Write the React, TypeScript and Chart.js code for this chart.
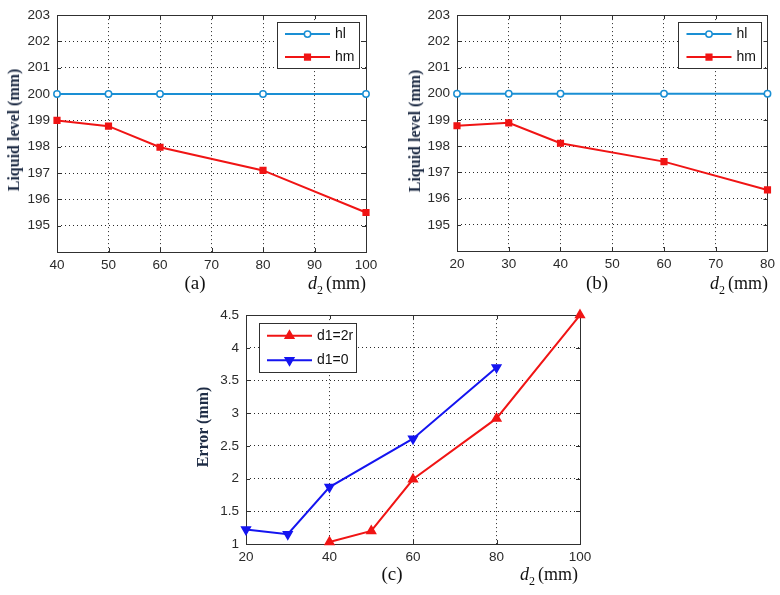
import React, { useEffect, useRef } from 'react';
import { Chart, registerables } from 'chart.js';
Chart.register(...registerables);

// (a)
const aX = [40, 50, 60, 80, 100];
const aHl = [200, 200, 200, 200, 200];
const aHm = [199.0, 198.78, 197.98, 197.1, 195.5];
// (b)
const bX = [20, 30, 40, 60, 80];
const bHl = [200, 200, 200, 200, 200];
const bHm = [198.78, 198.89, 198.11, 197.41, 196.33];
// (c)
const cX2r = [40, 50, 60, 80, 100];
const cErr2r = [1.03, 1.2, 1.99, 2.92, 4.5];
const cX0 = [20, 30, 40, 60, 80];
const cErr0 = [1.22, 1.15, 1.87, 2.61, 3.7];

const levelRange = { min: 194, max: 203, step: 1, hidden: [194] };
const aXRange = { min: 40, max: 100, step: 10 };
const bXRange = { min: 20, max: 80, step: 10 };
const cXRange = { min: 20, max: 100, step: 20 };
const errRange = { min: 1, max: 4.5, step: 0.5, hidden: [] as number[] };

const BLUE_L = '#1a8fd4';
const RED = '#f01414';
const BLUE = '#1414f0';
const TICK_FONT = "'Liberation Sans', Arial, sans-serif";
const SERIF = "'Liberation Serif', 'DejaVu Serif', serif";

const pts = (xs: number[], ys: number[]) => xs.map((x, i) => ({ x, y: ys[i] }));

function drawMarker(ctx: CanvasRenderingContext2D, style: string, x: number, y: number, r: number, fill: string, stroke: string, rot: number) {
  ctx.save();
  ctx.setLineDash([]);
  ctx.lineWidth = 1.5;
  ctx.fillStyle = fill;
  ctx.strokeStyle = stroke;
  ctx.beginPath();
  if (style === 'circle') {
    ctx.arc(x, y, r, 0, Math.PI * 2);
    ctx.fill();
    ctx.stroke();
  } else if (style === 'rect') {
    const s = Math.SQRT1_2 * r;
    ctx.rect(x - s, y - s, 2 * s, 2 * s);
    ctx.fill();
    ctx.stroke();
  } else {
    const dir = rot === 180 ? 1 : -1;
    ctx.moveTo(x, y + dir * r);
    ctx.lineTo(x + r * 0.866, y - dir * r * 0.5);
    ctx.lineTo(x - r * 0.866, y - dir * r * 0.5);
    ctx.closePath();
    ctx.fill();
    ctx.stroke();
  }
  ctx.restore();
}

type LegendCfg = { side: 'left' | 'right'; dx: number; dy: number; w: number; h: number };

function framePlugin(legend: LegendCfg) {
  return {
    id: 'frame',
    beforeDatasetsDraw(chart: any) {
      const { ctx, chartArea: a, scales } = chart;
      ctx.save();
      ctx.setLineDash([]);
      ctx.strokeStyle = '#303030';
      ctx.lineWidth = 1;
      ctx.strokeRect(Math.round(a.left) + 0.5, Math.round(a.top) + 0.5, Math.round(a.right - a.left), Math.round(a.bottom - a.top));
      const tl = 4;
      ctx.beginPath();
      scales.x.ticks.forEach((t: any) => {
        const px = Math.round(scales.x.getPixelForValue(t.value)) + 0.5;
        ctx.moveTo(px, a.bottom); ctx.lineTo(px, a.bottom - tl);
        ctx.moveTo(px, a.top); ctx.lineTo(px, a.top + tl);
      });
      scales.y.ticks.forEach((t: any) => {
        const py = Math.round(scales.y.getPixelForValue(t.value)) + 0.5;
        ctx.moveTo(a.left, py); ctx.lineTo(a.left + tl, py);
        ctx.moveTo(a.right, py); ctx.lineTo(a.right - tl, py);
      });
      ctx.stroke();
      ctx.restore();
    },
    afterDraw(chart: any) {
      const { ctx, chartArea: a } = chart;
      const x0 = legend.side === 'right' ? a.right - legend.dx - legend.w : a.left + legend.dx;
      const y0 = a.top + legend.dy;
      ctx.save();
      ctx.setLineDash([]);
      ctx.fillStyle = '#ffffff';
      ctx.fillRect(x0, y0, legend.w, legend.h);
      ctx.strokeStyle = '#303030';
      ctx.lineWidth = 1;
      ctx.strokeRect(Math.round(x0) + 0.5, Math.round(y0) + 0.5, legend.w, legend.h);
      const ds = chart.data.datasets;
      const rowH = legend.h / ds.length;
      ds.forEach((d: any, i: number) => {
        const cy = y0 + rowH * (i + 0.5) + 0.5;
        const lx1 = x0 + 8;
        const lx2 = x0 + 53;
        ctx.strokeStyle = d.borderColor;
        ctx.lineWidth = 2;
        ctx.beginPath();
        ctx.moveTo(lx1, cy); ctx.lineTo(lx2, cy);
        ctx.stroke();
        drawMarker(ctx, d.pointStyle, (lx1 + lx2) / 2, cy, d.pointRadius, d.pointBackgroundColor, d.borderColor, d.pointRotation || 0);
        ctx.fillStyle = '#111';
        ctx.font = `14px ${TICK_FONT}`;
        ctx.textBaseline = 'middle';
        ctx.textAlign = 'left';
        ctx.fillText(d.label, lx2 + 5, cy);
      });
      ctx.restore();
    },
  };
}

type Spec = {
  datasets: any[];
  xr: { min: number; max: number; step: number };
  yr: { min: number; max: number; step: number; hidden: number[] };
  yWidth: number;
  xHeight: number;
  padding: { top: number; right: number; left: number; bottom: number };
  legend: LegendCfg;
};

function Plot({ spec, left, top, width, height }: { spec: Spec; left: number; top: number; width: number; height: number }) {
  const ref = useRef<HTMLCanvasElement>(null);
  useEffect(() => {
    if (!ref.current) return;
    const gridCommon = {
      color: '#2a2a2a',
      lineWidth: 1,
      drawTicks: false,
    };
    const chart = new Chart(ref.current, {
      type: 'line',
      data: { datasets: spec.datasets },
      options: {
        responsive: false,
        animation: false,
        layout: { padding: spec.padding },
        plugins: { legend: { display: false }, tooltip: { enabled: false } },
        scales: {
          x: {
            type: 'linear',
            min: spec.xr.min,
            max: spec.xr.max,
            grid: gridCommon,
            border: { display: false, dash: [1, 3] },
            ticks: {
              stepSize: spec.xr.step,
              padding: 5,
              color: '#2a2a2a',
              font: { family: TICK_FONT, size: 13.5 },
              maxRotation: 0,
            },
            afterFit: (s: any) => { s.height = spec.xHeight; },
          },
          y: {
            type: 'linear',
            min: spec.yr.min,
            max: spec.yr.max,
            grid: gridCommon,
            border: { display: false, dash: [1, 3] },
            ticks: {
              stepSize: spec.yr.step,
              padding: 7,
              color: '#2a2a2a',
              font: { family: TICK_FONT, size: 13.5 },
              callback: (v: any) => (spec.yr.hidden.includes(Number(v)) ? '' : String(v)),
            },
            afterFit: (s: any) => { s.width = spec.yWidth; },
          },
        },
      },
      plugins: [framePlugin(spec.legend)],
    } as any);
    return () => chart.destroy();
  }, []);
  return (
    <canvas
      ref={ref}
      width={width}
      height={height}
      style={{ position: 'absolute', left, top, width, height }}
    />
  );
}

const lineDs = (label: string, data: any[], color: string, style: string, r: number, fill: string, rot = 0) => ({
  label,
  data,
  borderColor: color,
  backgroundColor: color,
  borderWidth: 2,
  pointStyle: style,
  pointRadius: r,
  pointBackgroundColor: fill,
  pointBorderColor: color,
  pointBorderWidth: 1.5,
  pointRotation: rot,
  tension: 0,
  clip: false,
});

const specA: Spec = {
  datasets: [
    lineDs('hl', pts(aX, aHl), BLUE_L, 'circle', 3.2, '#ffffff'),
    lineDs('hm', pts(aX, aHm), RED, 'rect', 4, RED),
  ],
  xr: aXRange,
  yr: levelRange,
  yWidth: 57,
  xHeight: 23,
  padding: { top: 9, right: 24, left: 0, bottom: 0 },
  legend: { side: 'right', dx: 7, dy: 7, w: 82, h: 46 },
};

const specB: Spec = {
  datasets: [
    lineDs('hl', pts(bX, bHl), BLUE_L, 'circle', 3.2, '#ffffff'),
    lineDs('hm', pts(bX, bHm), RED, 'rect', 4, RED),
  ],
  xr: bXRange,
  yr: levelRange,
  yWidth: 57,
  xHeight: 23,
  padding: { top: 9, right: 11, left: 0, bottom: 0 },
  legend: { side: 'right', dx: 6, dy: 7, w: 83, h: 46 },
};

const specC: Spec = {
  datasets: [
    lineDs('d1=2r', pts(cX2r, cErr2r), RED, 'triangle', 5, RED),
    lineDs('d1=0', pts(cX0, cErr0), BLUE, 'triangle', 5, BLUE, 180),
  ],
  xr: cXRange,
  yr: errRange,
  yWidth: 56,
  xHeight: 23,
  padding: { top: 11, right: 20, left: 0, bottom: 0 },
  legend: { side: 'left', dx: 13, dy: 8, w: 97, h: 49 },
};

const titleColor = '#1e2c45';

function YTitle({ text, cx, cy }: { text: string; cx: number; cy: number }) {
  return (
    <div
      style={{
        position: 'absolute',
        left: cx,
        top: cy,
        transform: 'translate(-50%, -50%) rotate(-90deg)',
        whiteSpace: 'nowrap',
        fontFamily: SERIF,
        fontSize: 16,
        fontWeight: 'bold',
        color: titleColor,
        lineHeight: '18px',
      }}
    >
      {text}
    </div>
  );
}

function Caption({ text, cx, cy }: { text: string; cx: number; cy: number }) {
  return (
    <div
      style={{
        position: 'absolute',
        left: cx,
        top: cy,
        transform: 'translate(-50%, -50%)',
        whiteSpace: 'nowrap',
        fontFamily: SERIF,
        fontSize: 19,
        color: '#111',
        lineHeight: '20px',
      }}
    >
      {text}
    </div>
  );
}

function XTitle({ right, cy }: { right: number; cy: number }) {
  return (
    <div
      style={{
        position: 'absolute',
        right: 780 - right,
        top: cy - 10,
        whiteSpace: 'nowrap',
        fontFamily: SERIF,
        fontSize: 18,
        color: '#111',
        lineHeight: '20px',
      }}
    >
      <i>d</i>
      <sub style={{ fontSize: 12 }}>2</sub>
      <span style={{ marginLeft: 3 }}>(mm)</span>
    </div>
  );
}

export default function App() {
  return (
    <div style={{ position: 'absolute', left: 0, top: 0, width: 780, height: 595, background: '#fff', overflow: 'hidden' }}>
      <Plot spec={specA} left={0} top={0} width={390} height={275} />
      <Plot spec={specB} left={400} top={0} width={380} height={274} />
      <Plot spec={specC} left={190} top={300} width={410} height={267} />
      <YTitle text="Liquid level (mm)" cx={14} cy={130} />
      <YTitle text="Liquid level (mm)" cx={415} cy={131} />
      <YTitle text="Error (mm)" cx={203} cy={427} />
      <Caption text="(a)" cx={195} cy={283} />
      <Caption text="(b)" cx={597} cy={283} />
      <Caption text="(c)" cx={392} cy={574} />
      <XTitle right={366} cy={283} />
      <XTitle right={768} cy={283} />
      <XTitle right={578} cy={574} />
    </div>
  );
}
